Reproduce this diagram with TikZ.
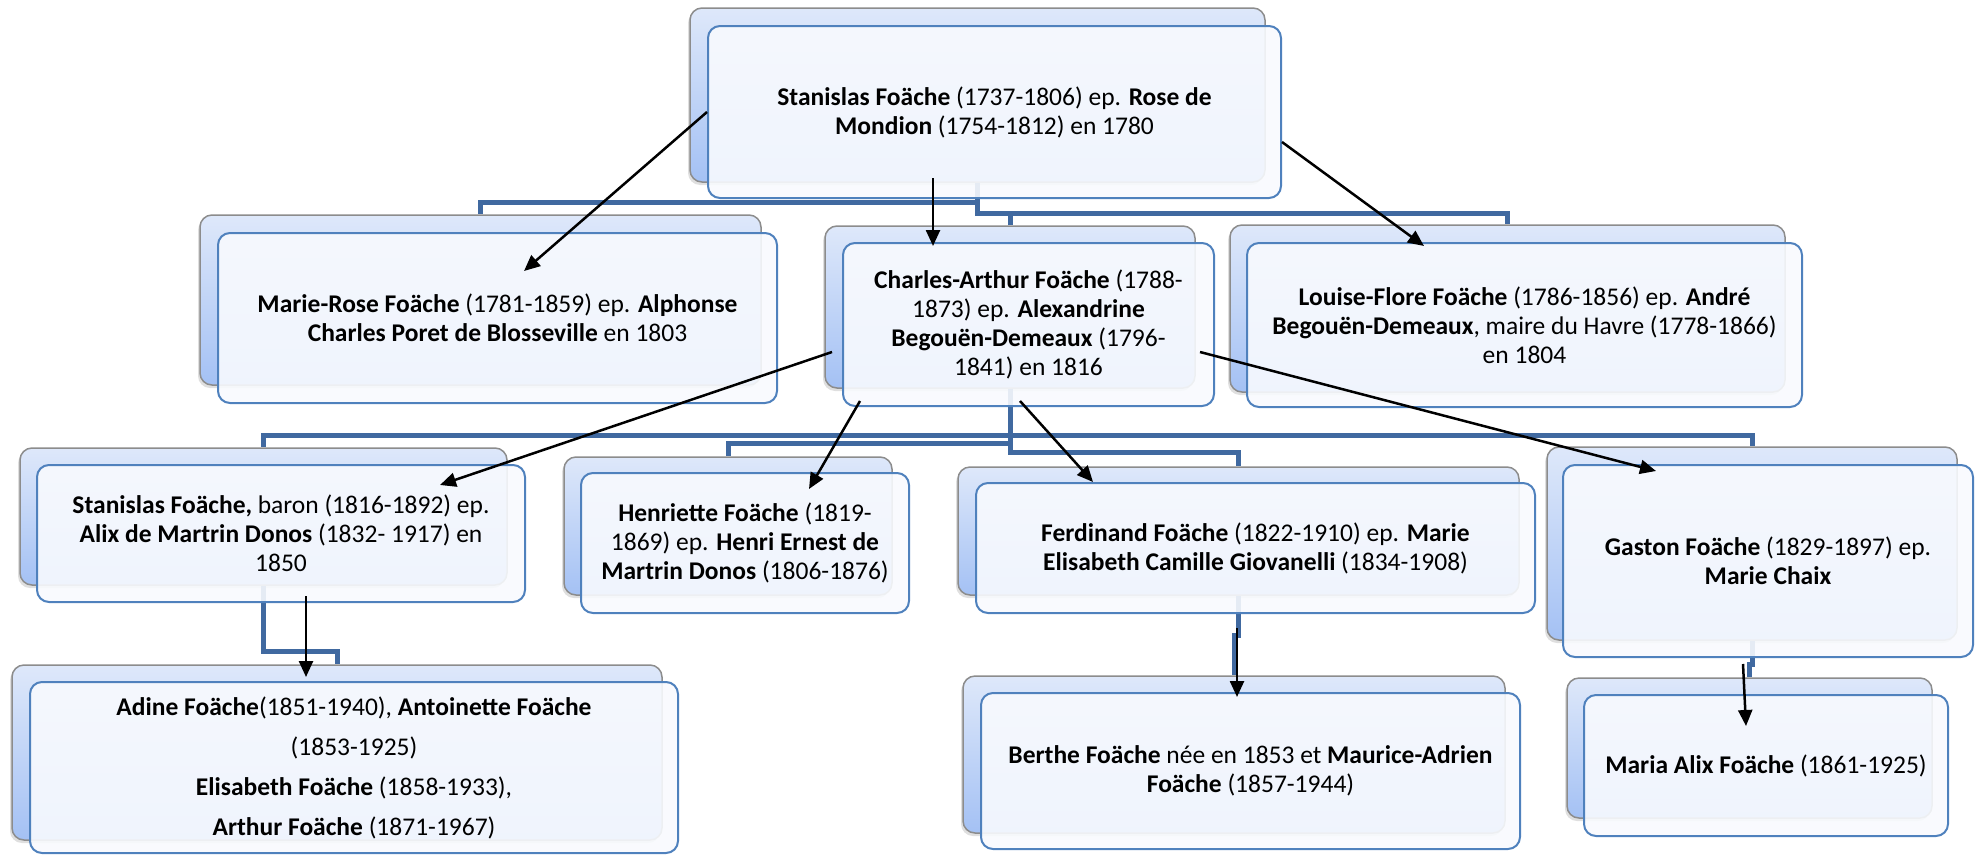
\documentclass[tikz,border=0pt]{standalone}
\usepackage{fontspec}
\setmainfont{Carlito}
\usepackage{tikz}
\usetikzlibrary{arrows.meta,calc,shadows}
\definecolor{orgblue}{HTML}{4069A0}
\definecolor{boxline}{HTML}{4F81BD}
\definecolor{backline}{HTML}{8C8C8C}
\definecolor{backtop}{HTML}{DEE8FA}
\definecolor{backbot}{HTML}{A4C1F4}
\definecolor{frontfill}{HTML}{F8FAFE}
\tikzset{
  backbox/.style={draw=backline,line width=1.5pt,rounded corners=12pt,
                  top color=backtop,bottom color=backbot,inner sep=0pt,
                  drop shadow={shadow xshift=-2pt,shadow yshift=-3pt,opacity=0.25}},
  frontbox/.style={draw=boxline,line width=2pt,rounded corners=12pt,
                   fill=frontfill,fill opacity=0.9,text opacity=1,
                   inner sep=0pt,align=center,
                   font=\fontsize{25.5}{29}\selectfont},
  orgline/.style={draw=orgblue,line width=5pt},
  notearr/.style={-{Triangle[length=16pt,width=14pt]},line width=2.5pt,color=black}
}

\begin{document}
\begin{tikzpicture}[x=1pt,y=-1pt]
  \useasboundingbox (0,0) rectangle (1980,854);

  % back cards
  \node[backbox,minimum width=575pt,minimum height=174pt] (stanislasb) at (977.5,95) {};
  \node[backbox,minimum width=561pt,minimum height=170pt] (marieroseb) at (480.5,300) {};
  \node[backbox,minimum width=370pt,minimum height=162pt] (charlesb) at (1010,307) {};
  \node[backbox,minimum width=555pt,minimum height=167pt] (louiseb) at (1507.5,308.5) {};
  \node[backbox,minimum width=487pt,minimum height=137pt] (baronb) at (263.5,516.5) {};
  \node[backbox,minimum width=328pt,minimum height=138pt] (henrietteb) at (728,526) {};
  \node[backbox,minimum width=561pt,minimum height=128pt] (ferdinandb) at (1238.5,531) {};
  \node[backbox,minimum width=410pt,minimum height=193pt] (gastonb) at (1752,543.5) {};
  \node[backbox,minimum width=650pt,minimum height=175pt] (adineb) at (337,752.5) {};
  \node[backbox,minimum width=542pt,minimum height=157pt] (bertheb) at (1234,754.5) {};
  \node[backbox,minimum width=365pt,minimum height=140pt] (mariab) at (1749.5,748) {};

  % org chart lines
  \draw[orgline] (stanislasb.south) -- ++(0,20) -| (marieroseb.north);
  \draw[orgline] (stanislasb.south) -- ++(0,31) -| (louiseb.north);
  \draw[orgline] (charlesb.north) -- ++(0,-13);
  \draw[orgline] (charlesb.south) -- ++(0,47) -| (baronb.north);
  \draw[orgline] (charlesb.south) -- ++(0,47) -| (gastonb.north);
  \draw[orgline] (charlesb.south) -- ++(0,55) -| (henrietteb.north);
  \draw[orgline] (charlesb.south) -- ++(0,64) -| (ferdinandb.north);
  \draw[orgline] (baronb.south) -- ++(0,66) -| (adineb.north);
  \draw[orgline] (ferdinandb.south) -- ++(0,40) -| (bertheb.north);
  \draw[orgline] (gastonb.south) -- ++(0,24) -| (mariab.north);

  % front cards
  \node[frontbox,minimum width=573pt,minimum height=172pt] (stanislas) at (994.5,112)
    {\textbf{Stanislas Foäche} (1737-1806) ep. \textbf{Rose de}\\ \textbf{Mondion} (1754-1812) en 1780};
  \node[frontbox,minimum width=559pt,minimum height=170pt] (marierose) at (497.5,318)
    {\textbf{Marie-Rose Foäche} (1781-1859) ep. \textbf{Alphonse}\\ \textbf{Charles Poret de Blosseville} en 1803};
  \node[frontbox,minimum width=371pt,minimum height=163pt] (charles) at (1028.5,324.5)
    {\textbf{Charles-Arthur Foäche} (1788-\\1873) ep. \textbf{Alexandrine}\\ \textbf{Begouën-Demeaux} (1796-\\1841) en 1816};
  \node[frontbox,minimum width=555pt,minimum height=164pt] (louise) at (1524.5,325)
    {\textbf{Louise-Flore Foäche} (1786-1856) ep. \textbf{André}\\ \textbf{Begouën-Demeaux}, maire du Havre (1778-1866)\\ en 1804};
  \node[frontbox,minimum width=488pt,minimum height=137pt] (baron) at (281,533.5)
    {\textbf{Stanislas Foäche,} baron (1816-1892) ep.\\ \textbf{Alix de Martrin Donos} (1832- 1917) en\\ 1850};
  \node[frontbox,minimum width=328pt,minimum height=140pt] (henriette) at (745,543)
    {\textbf{Henriette Foäche} (1819-\\1869) ep. \textbf{Henri Ernest de}\\ \textbf{Martrin Donos} (1806-1876)};
  \node[frontbox,minimum width=559pt,minimum height=130pt] (ferdinand) at (1255.5,548)
    {\textbf{Ferdinand Foäche} (1822-1910) ep. \textbf{Marie}\\ \textbf{Elisabeth Camille Giovanelli} (1834-1908)};
  \node[frontbox,minimum width=410pt,minimum height=192pt] (gaston) at (1768,561)
    {\textbf{Gaston Foäche} (1829-1897) ep.\\ \textbf{Marie Chaix}};
  \node[frontbox,minimum width=648pt,minimum height=171pt,
        font=\fontsize{25.5}{40}\selectfont] (adine) at (354,767.5)
    {\textbf{Adine Foäche}(1851-1940), \textbf{Antoinette Foäche}\\ (1853-1925)\\
     \textbf{Elisabeth Foäche} (1858-1933),\\ \textbf{Arthur Foäche} (1871-1967)};
  \node[frontbox,minimum width=539pt,minimum height=156pt] (berthe) at (1250.5,771)
    {\textbf{Berthe Foäche} née en 1853 et \textbf{Maurice-Adrien}\\ \textbf{Foäche} (1857-1944)};
  \node[frontbox,minimum width=364pt,minimum height=141pt] (maria) at (1766,765.5)
    {\textbf{Maria Alix Foäche} (1861-1925)};

  % black arrows
  \draw[notearr] (stanislas.west) -- ($(marierose.north)+(26.5,39)$);
  \draw[notearr] ($(stanislas.south)+(-61.5,-21)$) -- ($(charles.north)+(-95.5,4)$);
  \draw[notearr] ($(stanislas.east)+(0,30)$) -- ($(louise.north)+(-100.5,4)$);
  \draw[notearr] ($(charles.west)+(-10,27.5)$) -- ($(baron.north)+(159,21)$);
  \draw[notearr] ($(charles.south)+(-168.5,-6)$) -- ($(henriette.north)+(64,17)$);
  \draw[notearr] ($(charles.south)+(-8.5,-6)$) -- ($(ferdinand.north)+(-162.5,0)$);
  \draw[notearr] ($(charles.east)+(-15,27.5)$) -- ($(gaston.north)+(-112,7)$);
  \draw[notearr] ($(baron.south)+(25,-7)$) -- ($(adine.north)+(-48,-4)$);
  \draw[notearr] ($(ferdinand.south)+(-18.5,14)$) -- ($(berthe.north)+(-13.5,5)$);
  \draw[notearr] ($(gaston.south)+(-25,6)$) -- ($(maria.north)+(-20,32)$);
\end{tikzpicture}
\end{document}
